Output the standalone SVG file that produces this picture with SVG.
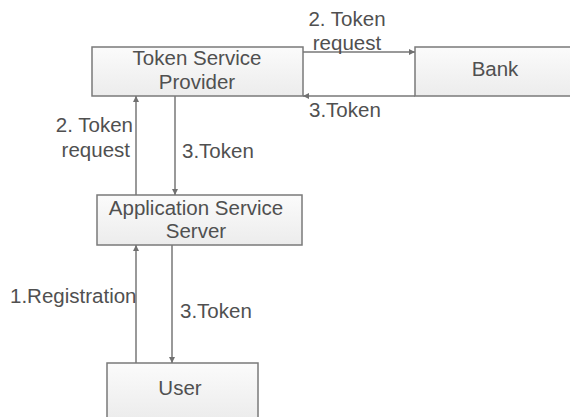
<svg xmlns="http://www.w3.org/2000/svg" width="570" height="417" viewBox="0 0 570 417">
<style>
.box{fill:url(#g);stroke:#7a7a7a;stroke-width:1.5}
.t{font-family:"Liberation Sans",Arial,sans-serif;font-size:20.5px;fill:#505050}
.m{text-anchor:middle}
.e{text-anchor:end}
.c{stroke:#777;stroke-width:1.5;fill:none;marker-end:url(#a)}
</style>
<defs>
<linearGradient id="g" x1="0" y1="0" x2="0" y2="1">
<stop offset="0" stop-color="#fbfbfb"/>
<stop offset="1" stop-color="#ececec"/>
</linearGradient>
<marker id="a" viewBox="0 0 10 10" refX="10" refY="5" markerWidth="6" markerHeight="6" orient="auto" markerUnits="userSpaceOnUse">
<path d="M0,0 L10,5 L0,10 z" fill="#707070"/>
</marker>
</defs>
<rect width="570" height="417" fill="#ffffff"/>
<g id="tsp">
<rect class="box" x="92" y="47" width="211" height="49"/>
<text class="t m" x="197" y="65">Token Service</text>
<text class="t m" x="197" y="89">Provider</text>
</g>
<g id="bank">
<rect class="box" x="415" y="47" width="160" height="49"/>
<text class="t m" x="495" y="76">Bank</text>
</g>
<g id="ass">
<rect class="box" x="97" y="195" width="205" height="50"/>
<text class="t m" x="196" y="215">Application Service</text>
<text class="t m" x="196" y="238">Server</text>
</g>
<g id="user">
<rect class="box" x="107" y="363" width="151" height="56"/>
<text class="t m" x="180" y="395">User</text>
</g>
<g id="connectors">
<line class="c" x1="303" y1="52" x2="415" y2="52"/>
<line class="c" x1="415" y1="96" x2="303" y2="96"/>
<line class="c" x1="136" y1="195" x2="136" y2="96"/>
<line class="c" x1="175" y1="96" x2="175" y2="195"/>
<line class="c" x1="136" y1="363" x2="136" y2="245"/>
<line class="c" x1="172" y1="245" x2="172" y2="363"/>
<text class="t m" x="347" y="26">2. Token</text>
<text class="t m" x="347" y="50">request</text>
<text class="t" x="309" y="117">3.Token</text>
<text class="t e" x="133" y="132">2. Token</text>
<text class="t e" x="130" y="157">request</text>
<text class="t" x="182" y="158">3.Token</text>
<text class="t" x="10" y="303">1.Registration</text>
<text class="t" x="180" y="318">3.Token</text>
</g>
</svg>
